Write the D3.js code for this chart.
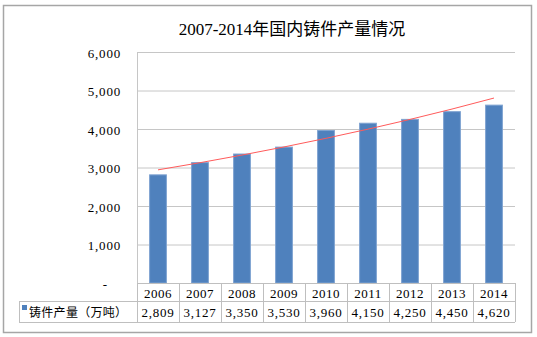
<!DOCTYPE html>
<html><head><meta charset="utf-8">
<script src="https://cdn.jsdelivr.net/npm/d3@7"></script>
<style>
html,body{margin:0;padding:0;background:#fff;}
svg{display:block;}
text{font-family:"Liberation Serif","Noto Sans CJK SC",serif;fill:#000;}
</style></head>
<body>
<svg id="c" width="537" height="337"></svg>
<script>
const title = "2007-2014年国内铸件产量情况";
const years = ["2006","2007","2008","2009","2010","2011","2012","2013","2014"];
const output = [2809,3127,3350,3530,3960,4150,4250,4450,4620];
const trend = [2939,3125,3323,3534,3758,3996,4249,4518,4804];
const yTicks = [0,1000,2000,3000,4000,5000,6000];
const seriesName = "铸件产量（万吨）";

const svg = d3.select("#c");
const L = 137, R = 515, T = 52, B = 283;
const row1 = 301, row2 = 322, legL = 19;

svg.append("rect").attr("x",3.5).attr("y",5.5).attr("width",528).attr("height",327)
  .attr("fill","#fff").attr("stroke","#a6a6a6").attr("stroke-width",1.5);

svg.append("text").attr("x",292).attr("y",35).attr("text-anchor","middle")
  .style("font-size","17px").text(title);

const x = d3.scaleBand().domain(years).range([L,R]).paddingInner(0.6).paddingOuter(0.3);
const xc = d3.scaleBand().domain(years).range([L,R]);
const y = d3.scaleLinear().domain([0,6000]).range([B,T]);

// gridlines
const yAxis = d3.axisLeft(y).tickValues(yTicks.filter(v=>v>0)).tickSize(-(R-L)).tickFormat("");
const gy = svg.append("g").attr("transform",`translate(${L},0)`).call(yAxis);
gy.select(".domain").remove();
gy.selectAll("line").attr("stroke","#c6c6c6").attr("stroke-width",1);
svg.append("line").attr("x1",L+0.5).attr("x2",L+0.5).attr("y1",T).attr("y2",B).attr("stroke","#c6c6c6");

// y labels
svg.append("g").selectAll("text").data(yTicks).join("text")
  .attr("x",d=>d===0?108:121).attr("y",d=>y(d)+1).attr("dy","0.35em")
  .attr("text-anchor","end").style("font-size","13px").style("letter-spacing","0.8px")
  .text(d=>d===0?"-":d3.format(",")(d));

// bars
svg.append("g").selectAll("rect").data(output).join("rect")
  .attr("x",(d,i)=>x(years[i])).attr("width",x.bandwidth())
  .attr("y",d=>y(d)).attr("height",d=>B-y(d))
  .attr("fill","#4f81bd").attr("stroke","#7fa3d1").attr("stroke-width",1);

// trend line
const line = d3.line().x((d,i)=>xc(years[i])+xc.bandwidth()/2).y(d=>y(d)).curve(d3.curveMonotoneX);
svg.append("path").datum(trend).attr("d",line).attr("fill","none")
  .attr("stroke","#ff5b5b").attr("stroke-width",1);

// table
const tg = svg.append("g").attr("stroke","#bfbfbf").attr("stroke-width",1).attr("fill","none");
tg.append("line").attr("x1",L).attr("x2",R).attr("y1",B+0.5).attr("y2",B+0.5);
tg.append("line").attr("x1",legL).attr("x2",R).attr("y1",row1+0.5).attr("y2",row1+0.5);
tg.append("line").attr("x1",legL).attr("x2",R).attr("y1",row2+0.5).attr("y2",row2+0.5);
tg.append("line").attr("x1",legL+0.5).attr("x2",legL+0.5).attr("y1",row1).attr("y2",row2);
const bounds = years.map(d=>xc(d)).concat([R]);
tg.selectAll("line.v").data(bounds).join("line").attr("class","v")
  .attr("x1",d=>Math.round(d)+0.5).attr("x2",d=>Math.round(d)+0.5).attr("y1",B).attr("y2",row2);

svg.append("g").selectAll("text").data(years).join("text")
  .attr("x",d=>xc(d)+xc.bandwidth()/2).attr("y",(B+row1)/2+1).attr("dy","0.35em")
  .attr("text-anchor","middle").style("font-size","13px").style("letter-spacing","0.5px").text(d=>d);
svg.append("g").selectAll("text").data(output).join("text")
  .attr("x",(d,i)=>xc(years[i])+xc.bandwidth()/2).attr("y",(row1+row2)/2+1).attr("dy","0.35em")
  .attr("text-anchor","middle").style("font-size","13px").style("letter-spacing","0.8px")
  .text(d=>d3.format(",")(d));

svg.append("rect").attr("x",22).attr("y",305).attr("width",5).attr("height",5).attr("fill","#4f81bd");
svg.append("text").attr("x",29).attr("y",(row1+row2)/2+1).attr("dy","0.35em")
  .style("font-family","'Noto Sans CJK SC',sans-serif").style("font-size","12px").style("letter-spacing","0.3px")
  .text(seriesName);
</script>
</body></html>
